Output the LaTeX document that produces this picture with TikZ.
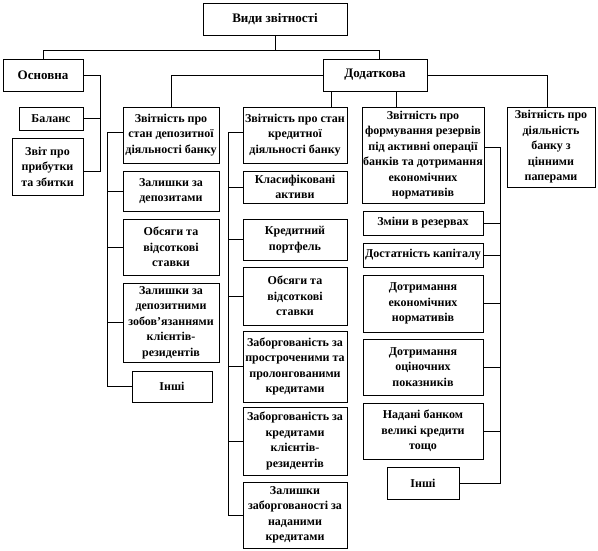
\documentclass[tikz,border=0pt]{standalone}
\usepackage{fontspec}
\setmainfont{Liberation Serif}
\usetikzlibrary{positioning,calc,shadows}
\tikzset{
  reportbox/.style={draw=black,fill=white,line width=0.5pt,inner sep=1pt,align=center,font=\fontsize{12}{15.5}\selectfont\bfseries,drop shadow={shadow xshift=1.2pt,shadow yshift=-1.2pt,fill=black,opacity=1}},
  headbox/.style={reportbox,font=\fontsize{13}{15}\selectfont\bfseries},
  link/.style={draw=black,line width=0.5pt}
}

\begin{document}
\begin{tikzpicture}[x=1pt,y=-1pt]
\useasboundingbox (0,0) rectangle (598,550);

% top levels
\node[headbox,minimum width=144pt,minimum height=32pt] (root) at (275,19) {Види звітності};
\node[headbox,minimum width=80pt,minimum height=32pt] (osn) at (43,75) {Основна};
\node[headbox,minimum width=104pt,minimum height=32pt] (dod) at (375,75) {Додаткова};

% basic reports
\node[reportbox,minimum width=64pt,minimum height=23pt] (bal) at (51,118.5) {Баланс};
\node[reportbox,minimum width=71pt,minimum height=57pt] (zvit) at (47.5,166.5) {Звіт про\\прибутки\\та збитки};

% deposits
\node[reportbox,minimum width=96pt,minimum height=56pt] (dep) at (171,135) {Звітність про\\стан депозитної\\діяльності банку};
\node[reportbox,minimum width=96pt,minimum height=40pt] (dep1) at (171,191) {Залишки за\\депозитами};
\node[reportbox,minimum width=96pt,minimum height=56pt] (dep2) at (171,247) {Обсяги та\\відсоткові\\ставки};
\node[reportbox,minimum width=96pt,minimum height=79pt] (dep3) at (171,322.5) {Залишки за\\депозитними\\зобов’язаннями\\клієнтів-\\резидентів};
\node[reportbox,minimum width=80pt,minimum height=31pt] (dep4) at (172,386.5) {Інші};

% credits
\node[reportbox,minimum width=104pt,minimum height=56pt] (kred) at (295,135) {Звітність про стан\\кредитної\\діяльності банку};
\node[reportbox,minimum width=104pt,minimum height=32pt] (kr1) at (295,187) {Класифіковані\\активи};
\node[reportbox,minimum width=104pt,minimum height=41pt] (kr2) at (295,239.5) {Кредитний\\портфель};
\node[reportbox,minimum width=104pt,minimum height=58pt] (kr3) at (295,296) {Обсяги та\\відсоткові\\ставки};
\node[reportbox,minimum width=104pt,minimum height=71pt] (kr4) at (295,366.5) {Заборгованість за\\простроченими та\\пролонгованими\\кредитами};
\node[reportbox,minimum width=104pt,minimum height=68pt] (kr5) at (295,441) {Заборгованість за\\кредитами\\клієнтів-\\резидентів};
\node[reportbox,minimum width=104pt,minimum height=66pt] (kr6) at (295,515) {Залишки\\заборгованості за\\наданими\\кредитами};

% reserves
\node[reportbox,minimum width=120pt,minimum height=96pt] (rez) at (423,155) {Звітність про\\формування резервів\\під активні операції\\банків та дотримання\\економічних\\нормативів};
\node[reportbox,minimum width=120pt,minimum height=24pt] (rz1) at (423,223) {Зміни в резервах};
\node[reportbox,minimum width=120pt,minimum height=24pt] (rz2) at (423,255) {Достатність капіталу};
\node[reportbox,minimum width=120pt,minimum height=57pt] (rz3) at (423,303.5) {Дотримання\\економічних\\нормативів};
\node[reportbox,minimum width=120pt,minimum height=56pt] (rz4) at (423,367) {Дотримання\\оціночних\\показників};
\node[reportbox,minimum width=120pt,minimum height=56pt] (rz5) at (423,431) {Надані банком\\великі кредити\\тощо};
\node[reportbox,minimum width=72pt,minimum height=32pt] (rz6) at (423,483) {Інші};

% securities
\node[reportbox,minimum width=88pt,minimum height=80pt] (cp) at (551,147) {Звітність про\\діяльність\\банку з\\цінними\\паперами};

% links
\draw[link] (root.south) -- ++(0,15) -| (osn.north);
\draw[link] (root.south) -- ++(0,15) -| ([xshift=4pt]dod.north);
\draw[link] (osn.east) -- ++(17,0) |- (bal.east);
\draw[link] (osn.east) -- ++(17,0) |- ([yshift=-4.5pt]zvit.east);
\draw[link] (dod.west) -| (dep.north);
\draw[link] (dod.east) -| ([xshift=-4pt]cp.north);
\draw[link] ([xshift=8pt]dod.south west) -- ([xshift=8pt]dod.south west |- kred.north);
\draw[link] ([xshift=-31pt]dod.south east) -- ([xshift=-31pt]dod.south east |- rez.north);
\foreach \c in {dep1,dep2,dep3,dep4}
  \draw[link] ([yshift=3pt]dep.west) -- ++(-16,0) |- (\c.west);
\foreach \c in {kr1,kr2,kr3,kr4,kr5,kr6}
  \draw[link] ([yshift=3pt]kred.west) -- ++(-15,0) |- (\c.west);
\foreach \c in {rz1,rz2,rz3,rz4,rz5,rz6}
  \draw[link] ([yshift=8pt]rez.east) -- ++(16,0) |- (\c.east);
\end{tikzpicture}
\end{document}
